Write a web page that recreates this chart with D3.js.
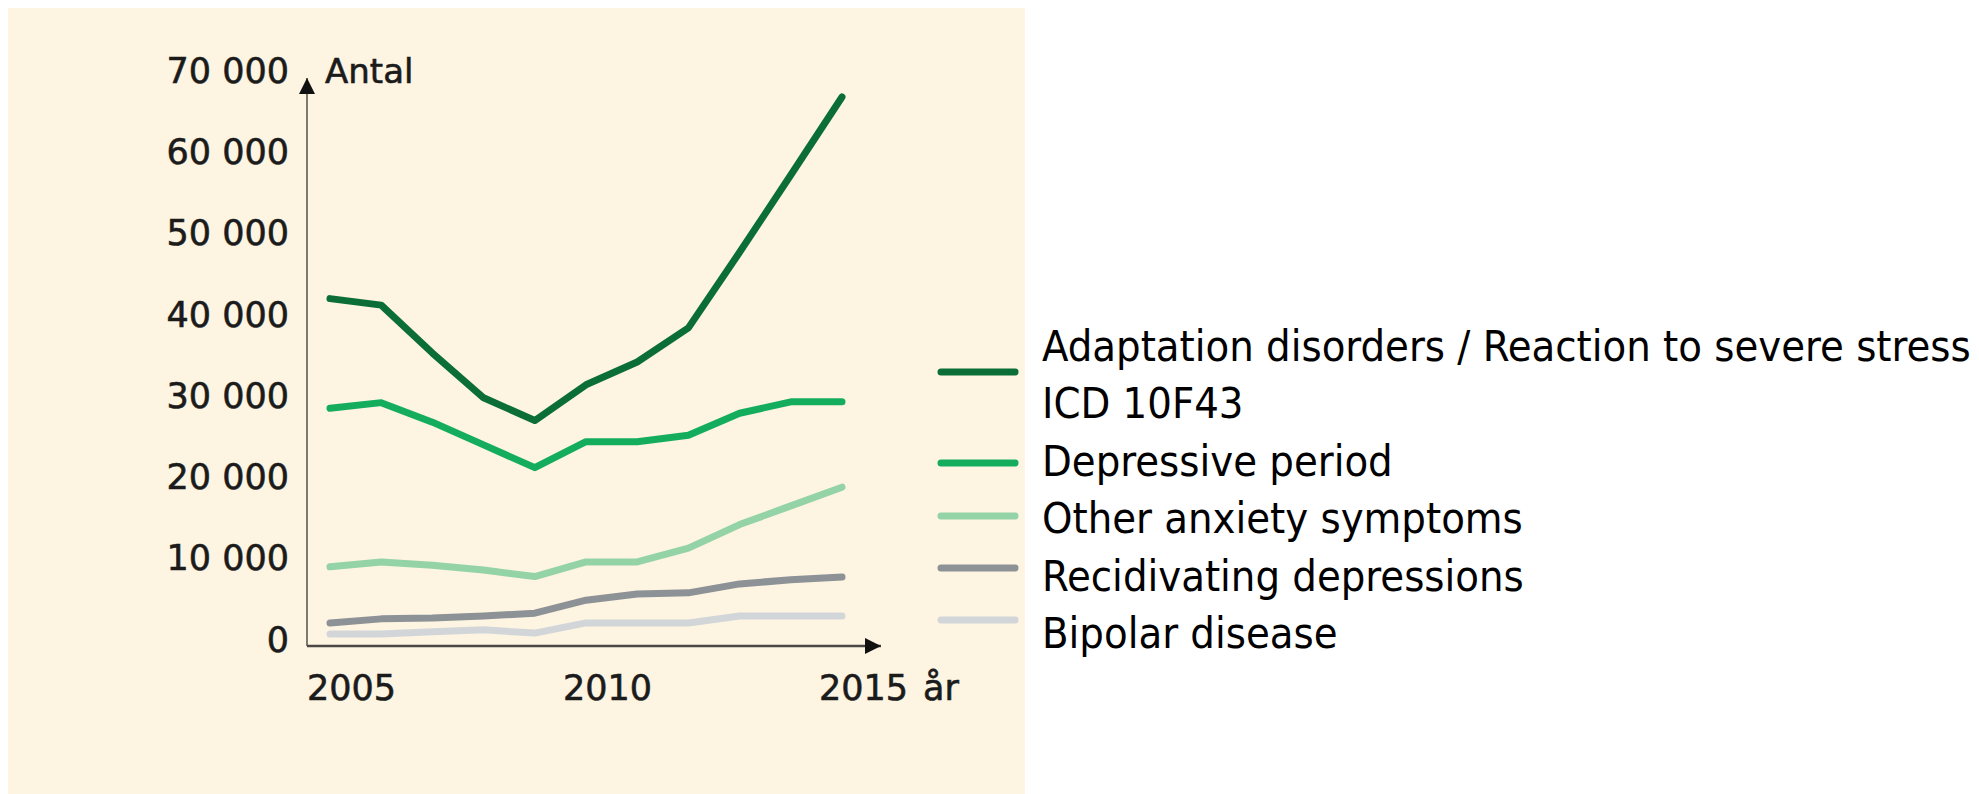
<!DOCTYPE html>
<html>
<head>
<meta charset="utf-8">
<script src="https://cdn.jsdelivr.net/npm/d3@7"></script>
<style>
  body { margin: 0; background: #ffffff; }
</style>
</head>
<body>
<div id="chart"></div>
<script>
// Data (counts per year)
var years = [2005, 2006, 2007, 2008, 2009, 2010, 2011, 2012, 2013, 2014, 2015];
var adaptation = [42000, 41200, 35300, 29800, 27000, 31400, 34200, 38400, 47700, 57200, 66800];
var depressive = [28500, 29200, 26800, 24000, 21200, 24400, 24400, 25200, 27900, 29300, 29300];
var otherAnxiety = [9000, 9600, 9200, 8600, 7800, 9600, 9600, 11300, 14200, 16500, 18800];
var recidivating = [2100, 2600, 2700, 2950, 3300, 4900, 5650, 5800, 6900, 7400, 7750];
var bipolar = [750, 750, 1000, 1250, 850, 2100, 2100, 2100, 2950, 2950, 2950];

var seriesNames = [
  ["Adaptation disorders / Reaction to severe stress", "ICD 10F43"],
  ["Depressive period"],
  ["Other anxiety symptoms"],
  ["Recidivating depressions"],
  ["Bipolar disease"]
];
var seriesColors = ["#0b6e37", "#14ad5e", "#93d3a6", "#8d9296", "#d2d6d9"];
var yTicks = [0, 10000, 20000, 30000, 40000, 50000, 60000, 70000];
var xTicks = [2005, 2010, 2015];

var allSeries = [adaptation, depressive, otherAnxiety, recidivating, bipolar];

// SVG area
var svgWidth = 1979;
var svgHeight = 794;

var svg = d3.select("#chart")
  .append("svg")
  .attr("width", svgWidth)
  .attr("height", svgHeight);

// beige panel behind the chart
svg.append("rect")
  .attr("x", 8)
  .attr("y", 8)
  .attr("width", 1017)
  .attr("height", 800)
  .attr("fill", "#fdf4e2");

// scales
var xScale = d3.scaleLinear().domain([2005, 2015]).range([330, 842]);
var yScale = d3.scaleLinear().domain([0, 70000]).range([640, 71]);

var axisX = 307;           // where the y axis sits
var axisY = yScale(-750);  // where the x axis sits

// arrow heads
var defs = svg.append("defs");
defs.append("marker")
  .attr("id", "arrow")
  .attr("viewBox", "0 0 10 10")
  .attr("refX", 10)
  .attr("refY", 5)
  .attr("markerWidth", 16)
  .attr("markerHeight", 18)
  .attr("markerUnits", "userSpaceOnUse")
  .attr("orient", "auto")
  .append("path")
  .attr("d", "M0,0 L10,5 L0,10 Z")
  .attr("fill", "#111");

// y axis line
svg.append("line")
  .attr("x1", axisX).attr("y1", axisY)
  .attr("x2", axisX).attr("y2", 78)
  .attr("stroke", "#7d7870")
  .attr("stroke-width", 2)
  .attr("marker-end", "url(#arrow)");

// x axis line
svg.append("line")
  .attr("x1", axisX).attr("y1", axisY)
  .attr("x2", 881).attr("y2", axisY)
  .attr("stroke", "#4a4744")
  .attr("stroke-width", 2.5)
  .attr("marker-end", "url(#arrow)");

// shared style for the axis texts
function axisText(sel, size) {
  sel.attr("font-family", "DejaVu Sans, sans-serif")
    .attr("font-size", size)
    .attr("fill", "#1b1b1b")
    .attr("stroke", "#1b1b1b")
    .attr("stroke-width", 0.6);
}

// y tick labels
var leftAxis = d3.axisLeft(yScale)
  .tickValues(yTicks)
  .tickSize(0)
  .tickPadding(18)
  .tickFormat(function(d) { return d === 0 ? "0" : d3.format(",")(d).replace(",", " "); });

var yAxisGroup = svg.append("g")
  .attr("transform", `translate(${axisX}, 0)`)
  .call(leftAxis);
yAxisGroup.select(".domain").remove();
yAxisGroup.selectAll("text").call(axisText, 35);

// x tick labels
var bottomAxis = d3.axisBottom(xScale)
  .tickValues(xTicks)
  .tickSize(0)
  .tickPadding(29)
  .tickFormat(d3.format("d"));

var xAxisGroup = svg.append("g")
  .attr("transform", `translate(0, ${axisY})`)
  .call(bottomAxis);
xAxisGroup.select(".domain").remove();
xAxisGroup.selectAll("text")
  .attr("dx", 21)
  .call(axisText, 35);

// unit labels
svg.append("text")
  .attr("x", 325)
  .attr("y", 83)
  .text("Antal")
  .call(axisText, 34);

svg.append("text")
  .attr("x", 923)
  .attr("y", axisY + 54)
  .text("år")
  .call(axisText, 35);

// lines
var drawLine = d3.line()
  .x(function(d, i) { return xScale(years[i]); })
  .y(function(d) { return yScale(d); });

// draw the light ones first so the darker lines sit on top
svg.append("g")
  .selectAll("path")
  .data(allSeries.map(function(s, i) { return { values: s, color: seriesColors[i] }; }).reverse())
  .enter()
  .append("path")
  .attr("d", function(d) { return drawLine(d.values); })
  .attr("fill", "none")
  .attr("stroke", function(d) { return d.color; })
  .attr("stroke-width", 7)
  .attr("stroke-linecap", "round")
  .attr("stroke-linejoin", "round");

// legend
var legendSwatchY = [372, 463, 516, 568, 620];
var legend = svg.append("g");

legend.selectAll("line")
  .data(seriesColors)
  .enter()
  .append("line")
  .attr("x1", 941)
  .attr("x2", 1015)
  .attr("y1", function(d, i) { return legendSwatchY[i]; })
  .attr("y2", function(d, i) { return legendSwatchY[i]; })
  .attr("stroke", function(d) { return d; })
  .attr("stroke-width", 7)
  .attr("stroke-linecap", "round");

var legendLines = [].concat.apply([], seriesNames);
var legendText = legend.selectAll("text")
  .data(legendLines)
  .enter()
  .append("text")
  .attr("x", 1042)
  .attr("y", function(d, i) { return 361 + i * 57.4; })
  .attr("font-family", "Liberation Sans Narrow, DejaVu Sans Condensed, sans-serif")
  .attr("font-size", 44)
  .attr("fill", "#000")
  .text(function(d) { return d; });

// fit the longest legend line to the width it has in the reference
var longest = legendText.nodes()[0].getComputedTextLength();
var fs = Math.max(32, Math.min(46, 44 * 929 / longest));
legendText.attr("font-size", fs);
</script>
</body>
</html>
